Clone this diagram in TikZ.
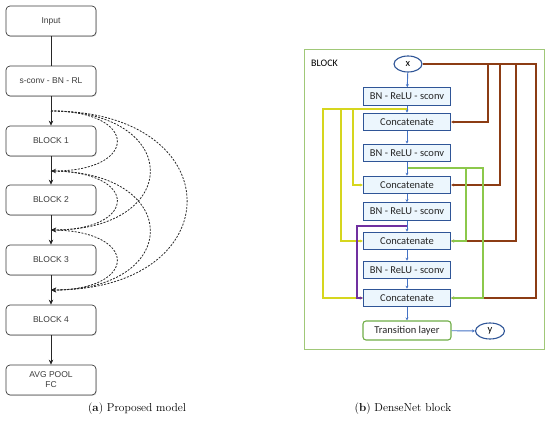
\documentclass[tikz,border=0pt]{standalone}
\usepackage{fontspec}
\newfontfamily\lsans{Liberation Sans}
\newfontfamily\carl{Carlito}
\usetikzlibrary{shapes.geometric,arrows.meta,shadows}
\definecolor{lgray}{RGB}{60,60,60}
\definecolor{bxblue}{RGB}{47,85,151}
\definecolor{bxfill}{RGB}{236,246,253}
\definecolor{arblue}{RGB}{68,114,196}
\definecolor{yel}{RGB}{214,214,30}
\definecolor{grn}{RGB}{140,200,75}
\definecolor{brn}{RGB}{140,60,20}
\definecolor{pur}{RGB}{112,48,160}
\definecolor{frgreen}{RGB}{160,200,120}
\definecolor{trgreen}{RGB}{112,173,71}
\begin{document}
\begin{tikzpicture}[x=1pt,y=-1pt,
  lbox/.style={draw=lgray, rounded corners=4pt, minimum width=90pt, minimum height=30pt,
    fill=white, font=\lsans\fontsize{8.5}{10}\selectfont, text=lgray, line width=0.7pt,
    align=center, inner sep=1pt, drop shadow={opacity=0.25, shadow xshift=0.8pt, shadow yshift=-0.8pt}},
  larrow/.style={draw=black!85, line width=0.7pt, -{Stealth[length=5pt,width=4.5pt]}},
  skip/.style={draw=black!85, line width=0.8pt, dash pattern=on 2pt off 1.4pt, -{Stealth[length=5pt,width=4.5pt]}},
  rbox/.style={draw=bxblue, fill=bxfill, minimum width=87pt, minimum height=17.5pt, inner sep=1pt,
    line width=1.1pt, font=\carl\fontsize{10.5}{12}\selectfont, text=black!85},
  rell/.style={ellipse, draw=bxblue, fill=white, line width=1.1pt, minimum width=28pt, minimum height=16pt,
    inner sep=0pt, font=\carl\fontsize{10.5}{12}\selectfont},
  barrow/.style={draw=arblue, line width=0.9pt, -{Stealth[length=3pt,width=3pt]}},
  link/.style={line width=1.3pt, -{Stealth[length=3pt,width=3pt]}},
  captxt/.style={font=\fontsize{11.5}{13}\selectfont, anchor=center}
]
\useasboundingbox (0,0) rectangle (550,422);
% ---------- (a) proposed model ----------
\node[lbox] (inp) at (51,21) {Input};
\node[lbox] (sc) at (51,81) {s-conv - BN - RL};
\node[lbox] (b1) at (51,141) {BLOCK 1};
\node[lbox] (b2) at (51,200) {BLOCK 2};
\node[lbox] (b3) at (51,260) {BLOCK 3};
\node[lbox] (b4) at (51,320) {BLOCK 4};
\node[lbox] (avg) at (51,380) {AVG POOL\\FC};
\draw[draw=black!85, line width=0.7pt] (inp) -- (sc);
\draw[larrow] (sc) -- (b1);
\draw[larrow] (b1) -- (b2);
\draw[larrow] (b2) -- (b3);
\draw[larrow] (b3) -- (b4);
\draw[larrow] (b4) -- (avg);
\coordinate (j0) at (51,111);
\coordinate (j1) at (51,171);
\coordinate (j2) at (51,230);
\coordinate (j3) at (51,290);
\draw[skip] (j0) .. controls (139,111) and (139,171) .. (j1);
\draw[skip] (j0) .. controls (183,111) and (183,230) .. (j2);
\draw[skip] (j0) .. controls (232,111) and (232,290) .. (j3);
\draw[skip] (j1) .. controls (139,171) and (139,230) .. (j2);
\draw[skip] (j1) .. controls (183,171) and (183,290) .. (j3);
\draw[skip] (j2) .. controls (139,230) and (139,290) .. (j3);
\node[captxt] (capa) at (137,409) {(\textbf{a}) Proposed model};
% ---------- (b) DenseNet block ----------
\draw[frgreen, line width=0.9pt] (304,49) rectangle (544,349);
\node[font=\carl\fontsize{10}{12}\selectfont, anchor=west, inner sep=0pt] (blk) at (311,63) {BLOCK};
\node[rell] (x) at (408,64) {x};
\node[rbox] (bn1) at (407,96.5) {BN - ReLU - sconv};
\node[rbox] (cc1) at (407,122) {Concatenate};
\node[rbox] (bn2) at (407,153) {BN - ReLU - sconv};
\node[rbox] (cc2) at (407,185) {Concatenate};
\node[rbox] (bn3) at (407,211.5) {BN - ReLU - sconv};
\node[rbox] (cc3) at (407,241) {Concatenate};
\node[rbox] (bn4) at (407,270) {BN - ReLU - sconv};
\node[rbox] (cc4) at (407,298) {Concatenate};
\node[rbox, draw=trgreen, fill=white, rounded corners=3pt, minimum width=88pt, minimum height=19pt] (tr) at (407,330.5) {Transition layer};
\node[rell, minimum width=29pt, minimum height=16pt] (y) at (490,331) {y};
% brown from x
\coordinate (R1) at (488,64);
\coordinate (R2) at (500,64);
\coordinate (R3) at (516,64);
\coordinate (R4) at (536,64);
\draw[link, brn] (x.east) -| (R1 |- cc1.east) -- (cc1.east);
\draw[link, brn] (x.east) -| (R2 |- cc2.east) -- (cc2.east);
\draw[link, brn] (x.east) -| (R3 |- cc3.east) -- (cc3.east);
\draw[link, brn] (x.east) -| (R4 |- cc4.east) -- (cc4.east);
% yellow from bn1
\coordinate (ya) at (407,109);
\coordinate (Y1) at (323,109);
\coordinate (Y2) at (341,109);
\coordinate (Y3) at (353,109);
\draw[link, yel] (ya) -| (Y3 |- cc2.west) -- (cc2.west);
\draw[link, yel] (ya) -| (Y2 |- cc3.west) -- (cc3.west);
\draw[link, yel] (ya) -| (Y1 |- cc4.west) -- (cc4.west);
% green from bn2
\coordinate (ga) at (407,168);
\coordinate (G1) at (466,168);
\coordinate (G2) at (483,168);
\draw[link, grn] (ga) -| (G1 |- cc3.east) -- (cc3.east);
\draw[link, grn] (ga) -| (G2 |- cc4.east) -- (cc4.east);
% purple from bn3
\coordinate (pa) at (407,226);
\coordinate (P1) at (357,226);
\draw[link, pur] (pa) -| (P1 |- cc4.west) -- (cc4.west);
% blue main flow
\draw[barrow] (x) -- (bn1);
\draw[barrow] (bn1) -- (cc1);
\draw[barrow] (cc1) -- (bn2);
\draw[barrow] (bn2) -- (cc2);
\draw[barrow] (cc2) -- (bn3);
\draw[barrow] (bn3) -- (cc3);
\draw[barrow] (cc3) -- (bn4);
\draw[barrow] (bn4) -- (cc4);
\draw[barrow] (cc4) -- (tr);
\draw[barrow] (tr) -- (y);
\node[captxt] (capb) at (403,409) {(\textbf{b}) DenseNet block};
\end{tikzpicture}
\end{document}
